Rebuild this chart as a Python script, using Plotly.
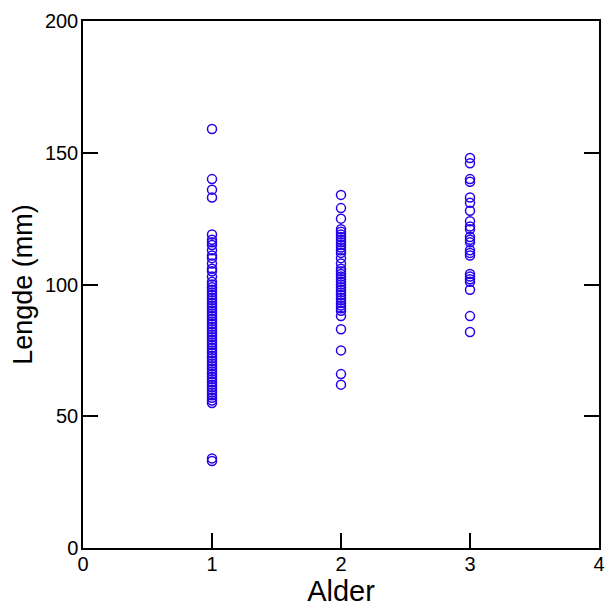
import plotly.graph_objects as go

# Length measurements (mm) grouped by age class
age1_length = [159, 140, 136, 133, 119, 117, 116, 115, 113, 111, 110, 108, 106, 105,
               103, 101, 100, 99, 98, 97, 96, 95, 94, 93, 92, 91, 90, 89, 88, 87,
               86, 85, 84, 83, 82, 81, 80, 79, 78, 77, 76, 75, 74, 73, 72, 71, 70,
               69, 68, 67, 66, 65, 64, 63, 62, 61, 60, 59, 58, 57, 56, 55, 34, 33]
age2_length = [134, 129, 125, 121, 120, 119, 118, 117, 116, 115, 114, 113, 112, 110,
               108, 106, 105, 104, 103, 102, 101, 100, 99, 98, 97, 96, 95, 94, 93,
               92, 91, 90, 88, 83, 75, 66, 62]
age3_length = [148, 146, 140, 139, 133, 131, 128, 124, 122, 121, 118, 117, 116, 113,
               112, 111, 104, 103, 102, 101, 98, 88, 82]

ages = [1, 2, 3]
groups = [age1_length, age2_length, age3_length]

x_vals, y_vals = [], []
for a, g in zip(ages, groups):
    x_vals += [a] * len(g)
    y_vals += g

x_ticks = [0, 1, 2, 3, 4]
y_ticks = [0, 50, 100, 150, 200]

FONT = "Liberation Sans, Arial"

fig = go.Figure(go.Scatter(
    x=x_vals, y=y_vals, mode="markers",
    marker=dict(symbol="circle-open", size=9, color="rgb(35,0,235)",
                line=dict(width=1.5, color="rgb(35,0,235)")),
    showlegend=False,
))

axis_common = dict(
    showgrid=False, zeroline=False, showline=True, linecolor="black", linewidth=1.5,
    ticks="inside", ticklen=15, tickwidth=1.5, tickcolor="black",
    tickfont=dict(family=FONT, size=20, color="black"),
)

fig.update_xaxes(range=[0, 4], tickvals=x_ticks, mirror=True, ticklabelstandoff=-3,
                 title=dict(text="Alder", font=dict(family=FONT, size=29, color="black"),
                            standoff=0),
                 **axis_common)
fig.update_yaxes(range=[0, 200], tickvals=y_ticks, mirror="ticks", ticklabelstandoff=-1,
                 title=dict(text="Lengde (mm)", font=dict(family=FONT, size=27, color="black"),
                            standoff=4),
                 **axis_common)

fig.update_layout(
    width=612, height=610,
    margin=dict(l=83, r=7, t=21, b=62),
    paper_bgcolor="white", plot_bgcolor="white",
)

fig.write_html("out.html")
